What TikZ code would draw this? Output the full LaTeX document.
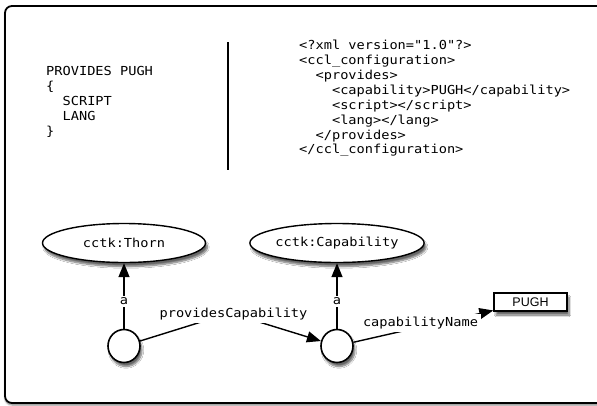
\documentclass[tikz,border=0pt]{standalone}
\usepackage{fontspec}
\newfontfamily\mono[FakeStretch=1.1]{DejaVu Sans Mono}
\setsansfont{Liberation Sans}
\usetikzlibrary{arrows.meta,shadows.blur,shapes.geometric}
\tikzset{
  code/.style={anchor=north west,align=left,inner sep=0pt,font=\mono\fontsize{12.4}{14.9}\selectfont},
  cls/.style={ellipse,draw,line width=1.4pt,fill=white,minimum width=163pt,minimum height=39pt,inner sep=0pt,font=\mono\fontsize{12.4}{14}\selectfont,
    blur shadow={shadow xshift=2pt,shadow yshift=-4pt,shadow blur steps=8,shadow opacity=60}},
  res/.style={ellipse,draw,line width=1.6pt,fill=white,minimum width=32pt,minimum height=33pt,inner sep=0pt,
    blur shadow={shadow xshift=2pt,shadow yshift=-4pt,shadow blur steps=8,shadow opacity=60}},
  lit/.style={rectangle,draw,line width=1.4pt,fill=white,minimum width=73pt,minimum height=18pt,inner sep=0pt,font=\sffamily\fontsize{12.5}{14}\selectfont,
    blur shadow={shadow xshift=2pt,shadow yshift=-4pt,shadow blur steps=8,shadow opacity=60}},
  rel/.style={line width=1.4pt,-{Triangle[length=14pt,width=11pt]}},
  lbl/.style={fill=white,inner sep=2pt,font=\mono\fontsize{12.4}{14}\selectfont},
}
\begin{document}
\begin{tikzpicture}[x=1pt,y=-1pt]
\useasboundingbox (0,0) rectangle (597,405);
\begin{scope}
\clip (0,0) rectangle (597,405);
\draw[line width=1.8pt,rounded corners=7pt,blur shadow={shadow xshift=0pt,shadow yshift=-2pt,shadow blur steps=4,shadow opacity=50},fill=white] (5,6) rectangle (640,403);
\end{scope}
\node[code] (left) at (46,66) {PROVIDES PUGH\\\{\\~~SCRIPT\\~~LANG\\\}};
\node[code] (xml) at (299,40) {<?xml version="1.0"?>\\<ccl\_configuration>\\~~<provides>\\~~~~<capability>PUGH</capability>\\~~~~<script></script>\\~~~~<lang></lang>\\~~</provides>\\</ccl\_configuration>};
\coordinate (sept) at (228,42);
\coordinate (sepb) at (228,170);
\draw[line width=1.4pt] (sept) -- (sepb);

\node[cls] (thorn) at (124,243) {cctk:Thorn};
\node[cls] (cap) at (337,243) {cctk:Capability};
\node[res] (r1) at (124,346) {};
\node[res] (r2) at (337,346) {};
\node[lit] (pugh) at (530.5,302) {PUGH};

\draw[rel] (r1) -- (thorn) node[lbl,pos=0.42] (a1) {a};
\draw[rel] (r2) -- (cap) node[lbl,pos=0.42] (a2) {a};
\coordinate (pcv) at (230,313);
\draw[line width=1.4pt] (r1) -- (pcv);
\draw[rel] (pcv) -- (r2);
\node[lbl,inner sep=3pt] (pc) at (233.5,314) {providesCapability};
\draw[rel] (r2) -- (pugh);
\node[lbl,inner sep=3pt] (cn) at (420.5,323) {capabilityName};
\end{tikzpicture}
\end{document}
